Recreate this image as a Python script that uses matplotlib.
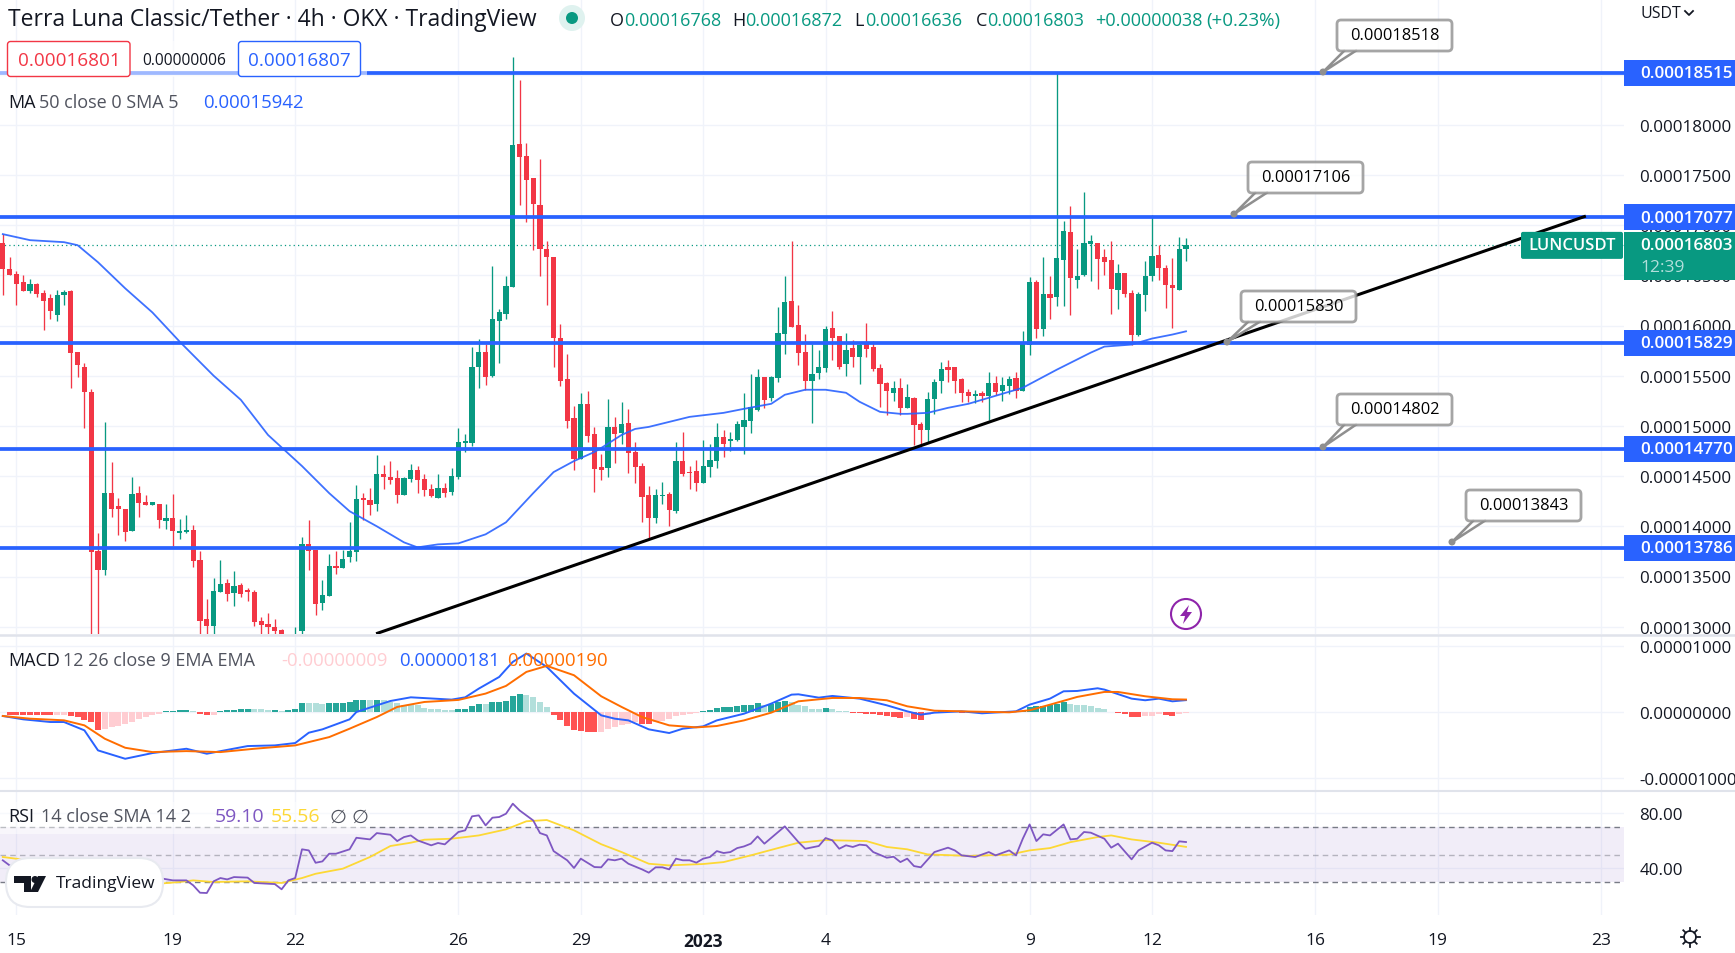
import numpy as np
import matplotlib
matplotlib.use("Agg")
from matplotlib import pyplot as plt
from matplotlib.patches import FancyBboxPatch, Rectangle, Circle, Polygon

plt.rcParams['font.family'] = ['Open Sans', 'DejaVu Sans']

W, H = 1735, 954

# prices are in units of 1e-7 USDT, first bar is index -1
opens = [1682,1656,1651,1643,1634,1641,1632,1627,1610,1630,
         1634,1574,1559,1534,1375,1356,1433,1420,1417,1395,
         1433,1424,1421,1422,1405,1408,1393,1394,1396,1366,
         1308,1301,1335,1344,1334,1342,1337,1335,1306,1303,
         1300,1297,1285,1290,1296,1382,1376,1324,1331,1360,
         1358,1369,1374,1428,1426,1422,1452,1449,1448,1431,
         1447,1456,1447,1437,1428,1438,1434,1449,1483,1483,
         1559,1574,1550,1604,1611,1638,1781,1769,1747,1720,
         1676,1668,1588,1547,1508,1467,1522,1492,1459,1458,
         1499,1493,1503,1474,1460,1431,1408,1430,1432,1415,
         1465,1454,1455,1443,1459,1465,1489,1485,1486,1499,
         1505,1516,1549,1528,1548,1592,1624,1600,1574,1545,
         1553,1558,1598,1590,1562,1578,1569,1582,1579,1558,
         1543,1533,1538,1518,1528,1502,1496,1527,1545,1559,
         1559,1547,1534,1530,1533,1530,1543,1535,1540,1548,
         1535,1581,1643,1597,1631,1628,1665,1693,1645,1650,
         1681,1682,1668,1665,1635,1652,1632,1591,1630,1649,
         1670,1657,1640,1635,1676]
highs = [1691,1668,1654,1650,1646,1642,1635,1631,1635,1635,
         1635,1574,1563,1537,1393,1504,1464,1428,1417,1449,
         1440,1431,1424,1422,1422,1432,1407,1411,1401,1375,
         1328,1349,1366,1348,1355,1344,1339,1337,1310,1314,
         1308,1298,1290,1300,1389,1406,1376,1347,1372,1375,
         1376,1404,1441,1433,1438,1471,1461,1465,1456,1449,
         1462,1460,1452,1442,1452,1443,1458,1498,1492,1579,
         1587,1582,1659,1616,1649,1867,1845,1782,1747,1766,
         1684,1668,1601,1572,1520,1533,1535,1499,1472,1527,
         1509,1524,1517,1484,1463,1440,1437,1444,1434,1484,
         1494,1460,1466,1486,1482,1503,1496,1494,1505,1533,
         1552,1557,1549,1550,1618,1649,1684,1620,1592,1582,
         1576,1600,1614,1590,1593,1586,1584,1602,1585,1562,
         1544,1545,1548,1542,1529,1504,1534,1547,1564,1566,
         1559,1548,1537,1536,1535,1554,1550,1549,1550,1554,
         1595,1648,1645,1668,1649,1851,1704,1719,1676,1733,
         1690,1682,1676,1684,1661,1652,1635,1633,1664,1710,
         1680,1660,1667,1688,1687]
lows = [1630,1650,1620,1634,1632,1628,1596,1606,1604,1620,
        1538,1549,1498,1270,1270,1351,1409,1391,1385,1395,
        1409,1421,1421,1398,1397,1380,1387,1393,1359,1285,
        1280,1280,1335,1326,1321,1330,1326,1301,1280,1285,
        1280,1285,1275,1285,1292,1356,1312,1317,1331,1352,
        1358,1364,1365,1406,1411,1415,1437,1442,1423,1431,
        1444,1433,1430,1429,1428,1429,1431,1447,1474,1480,
        1538,1541,1549,1563,1606,1638,1720,1703,1675,1649,
        1620,1559,1540,1498,1456,1467,1484,1434,1446,1449,
        1463,1482,1453,1443,1404,1387,1403,1422,1400,1413,
        1450,1437,1435,1443,1449,1458,1469,1475,1485,1472,
        1493,1515,1518,1525,1544,1572,1599,1561,1536,1503,
        1547,1554,1566,1557,1550,1559,1542,1569,1555,1519,
        1511,1525,1511,1518,1481,1477,1484,1512,1533,1544,
        1533,1524,1524,1523,1524,1506,1531,1525,1532,1528,
        1535,1571,1588,1590,1606,1619,1619,1610,1637,1649,
        1644,1636,1650,1611,1616,1628,1581,1590,1614,1644,
        1645,1617,1598,1635,1664]
closes = [1656,1650,1641,1634,1641,1631,1624,1614,1630,1633,
          1573,1561,1534,1374,1356,1433,1417,1417,1394,1432,
          1423,1421,1424,1406,1408,1395,1395,1396,1365,1306,
          1301,1336,1343,1333,1341,1333,1335,1305,1302,1300,
          1296,1285,1288,1293,1382,1375,1323,1332,1360,1358,
          1367,1375,1427,1426,1421,1452,1449,1446,1431,1448,
          1456,1446,1436,1430,1438,1433,1450,1484,1484,1559,
          1574,1549,1606,1613,1639,1780,1768,1745,1721,1676,
          1668,1588,1545,1505,1467,1522,1490,1457,1456,1499,
          1492,1502,1473,1459,1429,1408,1431,1431,1416,1465,
          1452,1453,1443,1460,1466,1489,1482,1487,1502,1506,
          1519,1549,1526,1549,1593,1623,1599,1573,1545,1552,
          1559,1597,1588,1559,1576,1569,1581,1577,1557,1542,
          1535,1538,1518,1529,1501,1496,1527,1544,1557,1556,
          1545,1533,1530,1531,1530,1543,1534,1541,1547,1535,
          1582,1643,1597,1631,1627,1667,1694,1647,1649,1682,
          1684,1666,1663,1636,1652,1631,1591,1631,1649,1669,
          1657,1640,1637,1676,1680.3]

ma_idx = [-1,3,8,10,13,17,21,25,30,34,38,43,47,50,54,58,60,63,66,70,73,77,80,83,86,87,90,92,94,
          100,105,108,112,114,117,120,123,125,128,131,132,135,138,141,144,149,154,159,161,165,168,171,173]
ma_val = [1691,1685,1683,1680,1663,1637,1613,1584,1550,1526,1491,1460,1433,1415,1400,1384,1379,1382,1383,1392,1404,1433,1454,1465,1474,1478,1491,1497,1499,
          1509,1513,1517,1522,1531,1536,1536,1533,1524,1514,1512,1512,1513,1518,1522,1528,1538,1556,1573,1579,1581,1587,1591,1594.2]

levels = [1851.5, 1707.7, 1582.9, 1477.0, 1378.6]
trend_idx = [53.9, 231.8]
trend_val = [1293, 1709]
last_price = 1680.3
price_ticks = [1300,1350,1400,1450,1500,1550,1600,1650,1700,1750,1800,1850]

# MACD in units of 1e-8
hist = [5,
        -40,-40,-40,-40,-50,-50,-50,-45,-40,
        -65,-80,-115,-150,-275,-265,-235,-210,-190,-150,
        -100,-70,-40,-25,10,15,25,35,15,-25,
        -50,-40,10,25,35,40,50,40,40,30,
        35,20,35,40,135,130,130,125,130,135,
        140,150,185,190,180,185,180,150,135,110,
        110,100,65,50,45,30,25,40,45,90,
        125,120,150,155,175,240,275,260,225,150,
        75,-40,-125,-215,-275,-290,-300,-305,-300,-260,
        -225,-200,-190,-150,-185,-190,-150,-140,-110,-60,
        -40,-25,-15,10,30,65,70,75,90,100,
        105,130,110,125,150,175,160,110,85,50,
        40,55,40,20,10,-10,-20,-25,-30,-40,
        -60,-75,-90,-75,-110,-120,-50,-20,10,10,
        5,-10,-5,0,5,0,0,5,5,10,
        20,80,85,95,100,125,150,125,100,100,
        90,60,40,5,-15,-30,-75,-80,-65,-55,
        -35,-50,-55,-30,-9]
macd_idx = [-1,2,6,8,11,13,17,21,26,29,35,39,42,44,46,50,51,56,59,65,67,69,72,74,76,79,83,87,89,91,94,97,99,102,104,108,112,115,116,119,121,125,129,132,134,136,140,143,148,150,153,155,157,160,161,165,167,169,171,173]
macd_val = [-61,-112,-153,-153,-280,-586,-714,-627,-561,-637,-520,-510,-474,-316,-265,-112,0,168,224,189,224,357,535,765,892,688,280,-51,-102,-128,-265,-321,-255,-219,-128,-26,128,265,270,219,245,204,102,10,-41,-10,10,-20,10,112,204,316,321,362,342,204,179,204,163,181]
signal_idx = [-1,3,8,11,14,17,21,26,31,36,42,47,50,54,57,61,66,70,73,76,79,83,87,90,93,97,101,104,108,112,116,121,125,129,132,136,140,147,150,153,157,161,163,167,171,173]
signal_val = [-61,-102,-127,-204,-408,-546,-612,-597,-612,-561,-510,-383,-255,-77,77,153,184,281,398,612,704,561,240,77,-77,-204,-235,-214,-128,-10,163,214,214,179,87,20,10,-5,26,112,230,306,306,240,194,190]

rsi_idx = [-1,0,5,10,14,18,22,24,26,27,28,29,30,31,32,33,35,36,39,40,41,42,43,44,45,46,47,48,50,51,53,54,56,57,58,59,60,62,63,64,66,67,68,69,70,71,72,73,74,75,77,78,79,80,82,83,84,86,87,88,89,90,91,93,94,95,96,97,98,99,100,101,102,103,104,105,106,107,108,109,110,111,114,116,117,119,120,121,122,123,124,125,126,127,129,130,131,132,133,134,136,138,139,140,142,144,145,147,148,149,150,151,152,153,155,156,157,158,159,161,162,163,165,166,168,169,170,171,172,173]
rsi_val = [45.8,42.1,36,34,30,33,32.9,31.2,31.2,27.6,22.2,22,30.5,32.9,31.9,33.6,33.2,29.3,28.5,24.7,31.2,32.9,53.8,53,44,45,50.6,50.6,53.8,62.2,61,65.6,64.4,59.8,62.7,63.9,60.3,56.7,58.4,57.4,66.4,67.6,77.8,78.5,71.2,76.8,77.3,79.7,87,82.1,74.8,65.6,63.9,52.5,45.8,40.2,47,40.9,40.7,46.5,45.8,47,43.3,39.2,36.8,40.7,40.7,39.2,47,45.8,45.8,44.1,47,48.2,52.5,51.1,51.8,54.7,55.9,57.9,63.2,57.9,70.5,59.1,54.2,56.2,62,60.3,54.2,56.7,55.5,57.2,56.7,51.8,47.7,48.4,44.5,47,41.6,40.7,51.8,55,53,49.4,48.2,51.8,49.4,53,49.4,61.5,71.9,59.8,64.7,63.9,71.9,61,61.5,66.4,65.9,61.5,55,57.9,46.5,53,58.6,56.7,53,52.5,59.6,59.1]
rsi_ma_idx = [-1,2,10,22,25,27,30,35,40,43,45,49,53,56,59,61,65,69,73,76,79,83,87,90,94,97,102,105,109,113,116,120,126,129,132,135,141,147,150,153,156,160,162,165,169,173]
rsi_ma_val = [48.2,46.3,35,28.8,30,31.2,30,30.5,29.3,32.9,36,39.7,48.2,56.2,58.6,60.8,61.5,63.9,68.3,74.2,75.1,67.6,57.5,51.8,43.3,42.1,43.1,44.5,49.4,54.7,58.6,60.5,59.8,55.5,53.8,50.1,49,49.9,53,54.7,59,62.7,63.9,61,58.6,55.56]

x_ticks = [1,24,42,66,84,102,120,150,168,192,210,234]
x_labels = ['15','19','22','26','29','2023','4','9','12','16','19','23']

# price notes: text, box corner, tip
note_text = ['0.00018518','0.00017106','0.00015830','0.00014802','0.00013843']
note_box = [(1337,21),(1248,163),(1241,292),(1337,395),(1466,491)]
note_tip = [(1323,73),(1234,215),(1227,343),(1323,448),(1452,543)]

GREEN = '#089981'
RED = '#f23645'
BLUE = '#2962ff'
GRID = '#f0f3fa'
DARK = '#131722'
GREY = '#50535e'

fig = plt.figure(figsize=(W / 100, H / 100), dpi=100, facecolor='white')

def pane(top, bottom):
    ax = fig.add_axes([0, 1 - bottom / H, 1624 / W, (bottom - top) / H])
    ax.set_xlim(-9.6 / 6.8, (1624 - 9.6) / 6.8)
    ax.yaxis.tick_right()
    for s in ax.spines.values():
        s.set_visible(False)
    ax.tick_params(length=0, labelsize=12.2, labelcolor=DARK, pad=11)
    ax.set_xticks(x_ticks)
    ax.tick_params(axis='x', labelbottom=False)
    ax.grid(True, color=GRID, lw=1)
    ax.set_axisbelow(True)
    return ax

Y0 = 125.7

def price_y(p):
    return Y0 + (1800 - p) * 1.004

# main pane
ax = pane(0, 635)
ax.set_ylim(1800 - (635 - Y0) / 1.004, 1800 + Y0 / 1.004)
ax.set_yticks(price_ticks)
ax.set_yticklabels([f'{p * 1e-7:.8f}' for p in price_ticks])

idx = np.arange(-1, len(opens) - 1)
o, h, l, c = map(np.array, (opens, highs, lows, closes))
colors = [GREEN if b >= a else RED for a, b in zip(o, c)]
ax.vlines(idx, l, h, colors=colors, lw=0.95, zorder=3)
ax.bar(idx, np.maximum(np.abs(c - o), 1.5), bottom=np.minimum(o, c), width=0.74, color=colors, zorder=4)

ax.plot(ma_idx, ma_val, color=BLUE, lw=1.3, alpha=0.9, zorder=5)
ax.axhline(last_price, color=GREEN, lw=0.9, ls=(0, (1, 2.5)), zorder=2)
for v in levels:
    ax.axhline(v, color=BLUE, lw=2.7, zorder=6)
ax.plot(trend_idx, trend_val, color='black', lw=2.2, zorder=6, solid_capstyle='butt')

# MACD pane
ax2 = pane(637, 792)
ax2.set_ylim(-1206, 1160)
ax2.set_yticks([-1000, 0, 1000])
ax2.set_yticklabels(['-0.00001000', '0.00000000', '0.00001000'])
hist = np.array(hist)
prev = np.r_[hist[0], hist[:-1]]
bar_col = []
for cur, pre in zip(hist, prev):
    if cur >= 0:
        bar_col.append('#26a69a' if cur > pre else '#b2dfdb')
    else:
        bar_col.append('#ffcdd2' if cur > pre else '#ff5252')
ax2.bar(idx, hist, width=0.86, color=bar_col, zorder=3)
ax2.plot(macd_idx, macd_val, color=BLUE, lw=1.4, zorder=4)
ax2.plot(signal_idx, signal_val, color='#ff6d00', lw=1.4, zorder=5)

# RSI pane
ax3 = pane(793, 916)
ax3.set_ylim(6, 95.5)
ax3.set_yticks([40, 80])
ax3.set_yticklabels(['40.00', '80.00'])
ax3.tick_params(axis='x', labelbottom=True, labelsize=12.5, pad=12.5)
ax3.set_xticklabels(x_labels)
ax3.get_xticklabels()[5].set_fontweight('bold')
ax3.axhspan(30, 70, color='#7e57c2', alpha=0.1, lw=0, zorder=1)
ax3.axhline(70, color='#787b86', lw=1, ls=(0, (4, 3)), zorder=2)
ax3.axhline(30, color='#787b86', lw=1, ls=(0, (4, 3)), zorder=2)
ax3.axhline(50, color='#787b86', lw=1, ls=(0, (4, 3)), alpha=0.5, zorder=2)
ax3.plot(rsi_ma_idx, rsi_ma_val, color='#fdd835', lw=1.3, zorder=3)
ax3.plot(rsi_idx, rsi_val, color='#7e57c2', lw=1.3, zorder=4)

# overlay in pixel coordinates for labels and boxes
ov = fig.add_axes([0, 0, 1, 1], zorder=10)
ov.set_xlim(0, W)
ov.set_ylim(H, 0)
ov.axis('off')
ov.patch.set_alpha(0)

def txt(x, y, s, color=DARK, size=12, ha='left', **kw):
    ov.text(x, y + 1.5, s, color=color, fontsize=size, ha=ha, va='center', **kw)

def rbox(x, y, w, h, fc, ec='none', r=3, lw=1, alpha=None, z=2):
    ov.add_patch(FancyBboxPatch((x, y), w, h, boxstyle=f'round,pad=0,rounding_size={r}',
                                fc=fc, ec=ec, lw=lw, alpha=alpha, zorder=z))

# separators
ov.plot([0, W], [636, 636], color='#e0e3eb', lw=1.8, zorder=1)
ov.plot([0, W], [792, 792], color='#e0e3eb', lw=1.5, zorder=1)

# title row
txt(8, 18, 'Terra Luna Classic/Tether · 4h · OKX · TradingView', size=16.5)
ov.add_patch(Circle((572, 19), 13, fc='#dff2ef', ec='none'))
ov.add_patch(Circle((572, 19), 6, fc=GREEN, ec='none'))
for x, x2, a, b in [(610, 624, 'O', '0.00016768'), (732, 745, 'H', '0.00016872'),
                    (854, 865, 'L', '0.00016636'), (976, 987, 'C', '0.00016803')]:
    txt(x, 19.5, a, size=13)
    txt(x2, 19.5, b, color=GREEN, size=13)
txt(1095, 19.5, '+0.00000038', color=GREEN, size=13)
txt(1206, 19.5, '(+0.23%)', color=GREEN, size=13.5)
txt(1640, 13, 'USDT', size=11.5)
ov.plot([1685, 1689, 1693], [12, 16, 12], color=DARK, lw=1.3)

# bid/ask row
ov.add_patch(Rectangle((0, 42), 367, 36, fc='white', ec='none', alpha=0.55, zorder=1))
rbox(7.5, 42.5, 122.5, 35, 'white', ec=RED, lw=1)
rbox(238.5, 42.5, 122, 35, 'white', ec=BLUE, lw=1)
txt(69, 59.5, '0.00016801', color=RED, size=13.6, ha='center')
txt(184, 59.5, '0.00000006', size=11.2, ha='center')
txt(299.5, 59.5, '0.00016807', color=BLUE, size=13.6, ha='center')

# indicator legends
txt(8, 101, 'MA', size=13)
txt(39, 101, '50 close 0 SMA 5', color=GREY, size=13)
txt(203, 101, '0.00015942', color=BLUE, size=13.4)
txt(8, 660, 'MACD', size=13)
txt(63, 660, '12 26 close 9 EMA EMA', color=GREY, size=13)
txt(281, 660, '-0.00000009', color='#ffcdd2', size=13.4)
txt(399, 660, '0.00000181', color=BLUE, size=13.4)
txt(507, 660, '0.00000190', color='#ff6d00', size=13.4)
ov.add_patch(Rectangle((0, 803), 370, 32, fc='white', ec='none', alpha=0.5, zorder=1))
txt(8, 816, 'RSI', size=13)
txt(41, 816, '14 close SMA 14 2', color=GREY, size=13)
txt(215, 816, '59.10', color='#7e57c2', size=14)
txt(271, 816, '55.56', color='#fdd835', size=14)
txt(329, 816, '∅', color=GREY, size=14)
txt(351, 816, '∅', color=GREY, size=14)

# price labels on the axis
for v in levels:
    y = price_y(v)
    ov.add_patch(Rectangle((1624, y - 13), 111, 26, fc=BLUE, ec='none', zorder=3))
    txt(1640, y - 1, f'{v * 1e-7:.8f}', color='white', size=12.3, zorder=4, fontweight='semibold')
ly = price_y(last_price)
ov.add_patch(Rectangle((1624, ly - 13), 111, 48, fc=GREEN, ec='none', zorder=3))
txt(1640, ly - 1, f'{last_price * 1e-7:.8f}', color='white', size=12.3, zorder=4, fontweight='semibold')
txt(1640, ly + 21, '12:39', color='#b2dfdb', size=12.5, zorder=4)
rbox(1521, ly - 13, 102, 27, GREEN, r=2, z=3)
txt(1572, ly - 1, 'LUNCUSDT', color='white', size=12, ha='center', zorder=4, fontweight='semibold')

# price notes
for s, (bx, by), (tx, ty) in zip(note_text, note_box, note_tip):
    ov.add_patch(Polygon([(bx + 8, by + 30), (tx, ty), (bx + 20, by + 30)], closed=False,
                         fc='white', ec='#8f8f8f', lw=1.8, zorder=5))
    ov.add_patch(Circle((tx, ty), 3.5, fc='#8f8f8f', ec='none', zorder=6))
    rbox(bx, by, 115, 31, 'white', ec='#8f8f8f', r=4, lw=2, alpha=0.8, z=5)
    txt(bx + 57.5, by + 14, s, color='black', size=11.8, ha='center', zorder=7)

# lightning icon
ov.add_patch(Circle((1186, 615), 15, fc='white', ec='#8e24aa', lw=1.5, zorder=5))
ov.add_patch(Polygon([(1189, 606), (1180, 617), (1185, 617), (1183, 625), (1192, 613), (1187, 613)],
                     fc='#8e24aa', ec='none', zorder=6))

# TradingView badge
rbox(6, 859, 157, 49, 'white', ec='#e8eaf0', r=24, lw=1.5, z=5)
ov.add_patch(Polygon([(14, 877), (31, 877), (31, 893), (24, 893), (24, 884), (14, 884)], fc=DARK, ec='none', zorder=6))
ov.add_patch(Circle((35, 880.5), 3.5, fc=DARK, ec='none', zorder=6))
ov.add_patch(Polygon([(38, 877), (46, 877), (38, 893), (30, 893)], fc=DARK, ec='none', zorder=6))
txt(56, 883, 'TradingView', size=12.5, zorder=6)

# settings icon
ov.add_patch(Circle((1690, 938), 6, fc='white', ec=DARK, lw=1.2, zorder=5))
for a in np.arange(0, 360, 45):
    ca, sa = np.cos(np.radians(a)), np.sin(np.radians(a))
    ov.plot([1690 + 6 * ca, 1690 + 9.5 * ca], [938 + 6 * sa, 938 + 9.5 * sa], color=DARK, lw=1.3, zorder=5)

fig.savefig('out.png', dpi=100, facecolor='white')
